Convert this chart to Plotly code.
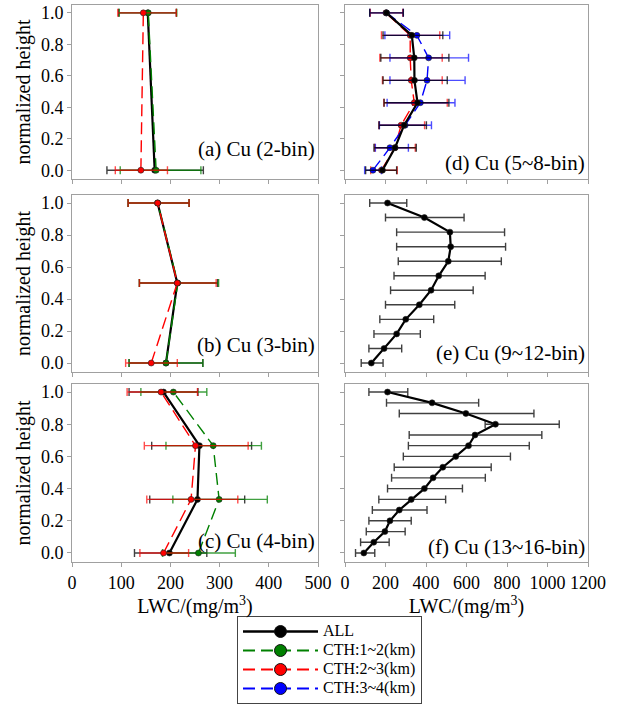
import plotly.graph_objects as go

# ---------------- data (listed from height 0 upwards) ----------------
H_A = [0.0, 1.0]
A_ALL = [168, 154]; A_ALL_LO = [71, 95]; A_ALL_HI = [267, 212]
A_G = [171, 155];   A_G_LO = [98, 96];    A_G_HI = [262, 213]
A_R = [140, 145];   A_R_LO = [88, 93];    A_R_HI = [194, 212]

H_B = [0.0, 0.5, 1.0]
B_ALL = [191, 214, 174]; B_ALL_LO = [116, 137, 114]; B_ALL_HI = [266, 296, 238]
B_G = [191, 215, 174];   B_G_LO = [116, 137, 114];   B_G_HI = [266, 298, 238]
B_R = [161, 214, 174];   B_R_LO = [109, 137, 114];   B_R_HI = [214, 293, 238]

H_C = [0.0, 0.333, 0.667, 1.0]
C_ALL = [198, 255, 259, 186]; C_ALL_LO = [127, 158, 162, 116]; C_ALL_HI = [274, 351, 365, 256]
C_G = [257, 299, 287, 206];   C_G_LO = [184, 205, 191, 140];   C_G_HI = [332, 397, 385, 274]
C_R = [186, 242, 251, 181];   C_R_LO = [138, 152, 147, 112];   C_R_HI = [237, 337, 358, 255]

H_D = [0.0, 0.143, 0.286, 0.429, 0.571, 0.714, 0.857, 1.0]
D_ALL = [185, 247, 292, 358, 343, 342, 330, 205]
D_ALL_LO = [102, 143, 168, 193, 188, 177, 188, 122]
D_ALL_HI = [255, 352, 402, 513, 505, 513, 483, 288]
D_R = [180, 247, 277, 342, 327, 322, 322, 202]
D_R_LO = [127, 147, 168, 192, 185, 172, 180, 125]
D_R_HI = [258, 347, 393, 505, 480, 480, 468, 285]
D_B = [138, 222, 297, 372, 405, 413, 355, 205]
D_B_LO = [97, 150, 170, 208, 222, 222, 197, 122]
D_B_HI = [180, 313, 427, 543, 593, 610, 517, 288]

H_E = [0.0, 0.091, 0.182, 0.273, 0.364, 0.455, 0.545, 0.636, 0.727, 0.818, 0.909, 1.0]
E_ALL = [130, 193, 255, 300, 367, 425, 463, 510, 522, 518, 392, 210]
E_ALL_LO = [80, 118, 143, 172, 200, 225, 242, 263, 255, 255, 200, 122]
E_ALL_HI = [188, 280, 372, 438, 542, 633, 692, 772, 793, 788, 588, 305]

H_F = [0.0, 0.067, 0.133, 0.2, 0.267, 0.333, 0.4, 0.467, 0.533, 0.6, 0.667, 0.733, 0.8, 0.867, 0.933, 1.0]
F_ALL = [93, 142, 197, 222, 268, 327, 392, 435, 483, 547, 610, 642, 743, 597, 430, 210]
F_ALL_LO = [52, 77, 105, 118, 135, 167, 210, 230, 243, 288, 313, 317, 692, 268, 205, 118]
F_ALL_HI = [147, 218, 297, 327, 405, 497, 580, 693, 722, 817, 910, 972, 1058, 933, 660, 310]

SERIES_NAMES = ["ALL", "CTH:1~2(km)", "CTH:2~3(km)", "CTH:3~4(km)"]
PANEL_LABELS = ["(a) Cu (2-bin)", "(b) Cu (3-bin)", "(c) Cu (4-bin)",
                "(d) Cu (5~8-bin)", "(e) Cu (9~12-bin)", "(f) Cu (13~16-bin)"]
X_TITLE = "LWC/(mg/m<sup>3</sup>)"
Y_TITLE = "normalized height"

# ---------------- styles ----------------
FONT = "Liberation Serif"
STY = {
    "ALL": dict(color="#000000", err="rgba(0,0,0,0.75)", dash="solid", width=2.2),
    "CTH:1~2(km)": dict(color="#008000", err="rgba(0,128,0,0.75)", dash="12px,6px", width=1.4),
    "CTH:2~3(km)": dict(color="#FF0000", err="rgba(255,0,0,0.7)", dash="12px,6px", width=1.4),
    "CTH:3~4(km)": dict(color="#0000FF", err="rgba(0,0,255,0.7)", dash="12px,6px", width=1.4),
}

fig = go.Figure()


def add(name, x, lo, hi, h, ax):
    s = STY[name]
    fig.add_trace(go.Scatter(
        x=x, y=h, mode="lines+markers", name=name, showlegend=False,
        line=dict(color=s["color"], width=s["width"], dash=s["dash"]),
        marker=dict(color=s["color"], size=6, line=dict(color="#222", width=0.6)),
        error_x=dict(type="data", symmetric=False,
                     array=[b - a for a, b in zip(x, hi)],
                     arrayminus=[a - b for a, b in zip(x, lo)],
                     color=s["err"], thickness=1.4, width=4),
        xaxis="x" + ax, yaxis="y" + ax,
    ))


# panel a -> axis 1, d -> 2, b -> 3, e -> 4, c -> 5, f -> 6
add("ALL", A_ALL, A_ALL_LO, A_ALL_HI, H_A, "")
add("CTH:1~2(km)", A_G, A_G_LO, A_G_HI, H_A, "")
add("CTH:2~3(km)", A_R, A_R_LO, A_R_HI, H_A, "")

add("ALL", B_ALL, B_ALL_LO, B_ALL_HI, H_B, "3")
add("CTH:1~2(km)", B_G, B_G_LO, B_G_HI, H_B, "3")
add("CTH:2~3(km)", B_R, B_R_LO, B_R_HI, H_B, "3")

add("ALL", C_ALL, C_ALL_LO, C_ALL_HI, H_C, "5")
add("CTH:1~2(km)", C_G, C_G_LO, C_G_HI, H_C, "5")
add("CTH:2~3(km)", C_R, C_R_LO, C_R_HI, H_C, "5")

add("CTH:2~3(km)", D_R, D_R_LO, D_R_HI, H_D, "2")
add("CTH:3~4(km)", D_B, D_B_LO, D_B_HI, H_D, "2")
add("ALL", D_ALL, D_ALL_LO, D_ALL_HI, H_D, "2")

add("ALL", E_ALL, E_ALL_LO, E_ALL_HI, H_E, "4")
add("ALL", F_ALL, F_ALL_LO, F_ALL_HI, H_F, "6")

# legend entries (no data; legend symbols only)
for name in SERIES_NAMES:
    s = STY[name]
    fig.add_trace(go.Scatter(
        x=[None], y=[None], mode="lines+markers",
        name='<span style="font-size:16px">' + name + "</span>",
        line=dict(color=s["color"], width=2.6 if name == "ALL" else 1.8, dash=s["dash"]),
        marker=dict(color=s["color"], size=12, line=dict(color="#111", width=1)),
        showlegend=True, xaxis="x", yaxis="y",
    ))

# ---------------- layout ----------------
W, H = 630, 705
ML, MR, MT, MB = 72, 42, 5, 143
PW, PH = W - ML - MR, H - MT - MB


def xd(a, b):
    return [(a - ML) / PW, (b - ML) / PW]


def yd(top, bot):
    return [(H - MB - bot) / PH, (H - MB - top) / PH]


XL, XR = xd(72, 318), xd(345, 588)
ROWS = [yd(5, 179), yd(195, 372), yd(384, 562)]

frame = dict(showline=True, mirror=True, linecolor="#A0A0A0", linewidth=1,
             ticks="outside", ticklen=4, tickcolor="#A0A0A0", showgrid=False,
             zeroline=False)
tfont = dict(family=FONT, size=18, color="#000")

layout = dict(
    width=W, height=H,
    margin=dict(l=ML, r=MR, t=MT, b=MB, autoexpand=False),
    paper_bgcolor="white", plot_bgcolor="white",
    font=dict(family=FONT, size=18, color="#000"),
    legend=dict(x=(237 - ML) / PW, y=(H - MB - 616) / PH, xanchor="left", yanchor="top",
                bordercolor="#444", borderwidth=1, bgcolor="white",
                font=dict(family=FONT, size=11, color="#000"),
                tracegroupgap=0, itemwidth=75),
    showlegend=True,
)

panels = [("", XL, ROWS[0]), ("2", XR, ROWS[0]), ("3", XL, ROWS[1]),
          ("4", XR, ROWS[1]), ("5", XL, ROWS[2]), ("6", XR, ROWS[2])]
for i, (ax, dx, dy) in enumerate(panels):
    left = dx is XL
    bottom = dy is ROWS[2]
    xa = dict(frame, domain=dx, anchor="y" + ax,
              range=[0, 500] if left else [0, 1200],
              dtick=100 if left else 200, tick0=0,
              showticklabels=bottom, tickfont=tfont, tickangle=0)
    if bottom:
        xa["title"] = dict(text=X_TITLE, font=dict(family=FONT, size=20, color="#000"), standoff=6)
    ya = dict(frame, domain=dy, anchor="x" + ax, range=[-0.056, 1.05],
              dtick=0.2, tick0=0, tickformat=".1f",
              showticklabels=left, tickfont=tfont)
    if left:
        ya["title"] = dict(text=Y_TITLE, font=dict(family=FONT, size=20, color="#000"), standoff=4)
    layout["xaxis" + ax] = xa
    layout["yaxis" + ax] = ya

fig.update_layout(**layout)

LABEL_POS = {"": (0.17, 0), "3": (0.15, 1), "5": (0.12, 2),
             "2": (0.09, 3), "4": (0.11, 4), "6": (0.085, 5)}
for ax, (yy, idx) in LABEL_POS.items():
    fig.add_annotation(text=PANEL_LABELS[idx], xref=("x" + ax) + " domain",
                       yref=("y" + ax) + " domain", x=0.995, y=yy,
                       xanchor="right", yanchor="middle", showarrow=False,
                       font=dict(family=FONT, size=21, color="#000"))

fig.write_html("out.html", config={"displayModeBar": False},
               post_script="document.body.style.margin='0px';")
